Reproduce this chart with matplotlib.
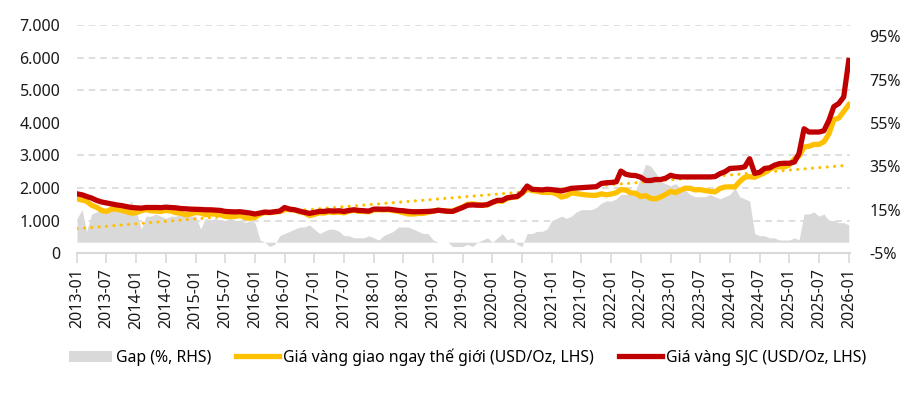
import numpy as np
import pandas as pd
import matplotlib
matplotlib.use("Agg")
import matplotlib.pyplot as plt
import matplotlib.dates as mdates
from matplotlib.patches import Patch
from matplotlib.lines import Line2D
from matplotlib.ticker import FixedLocator, FuncFormatter

plt.rcParams["font.family"] = ["Noto Sans", "DejaVu Sans"]

# monthly data 2013-01 .. 2026-01
months = pd.date_range("2013-01-01", "2026-01-01", freq="MS")

# gia vang the gioi (USD/oz)
spot = [1670, 1630, 1590, 1470, 1410, 1310, 1280, 1350, 1350, 1315, 1275, 1225,
        1245, 1300, 1335, 1300, 1290, 1280, 1310, 1295, 1240, 1225, 1175, 1200,
        1250, 1230, 1180, 1200, 1200, 1180, 1130, 1115, 1125, 1160, 1085, 1070,
        1095, 1200, 1245, 1240, 1260, 1275, 1335, 1340, 1325, 1265, 1235, 1150,
        1190, 1235, 1230, 1265, 1245, 1260, 1235, 1285, 1315, 1280, 1280, 1265,
        1330, 1330, 1325, 1335, 1305, 1280, 1240, 1200, 1200, 1215, 1220, 1250,
        1290, 1320, 1300, 1285, 1285, 1360, 1415, 1500, 1510, 1495, 1470, 1480,
        1560, 1600, 1590, 1680, 1715, 1730, 1840, 1970, 1920, 1900, 1865, 1860,
        1865, 1810, 1720, 1760, 1850, 1830, 1805, 1785, 1775, 1775, 1820, 1790,
        1815, 1855, 1950, 1935, 1850, 1835, 1735, 1765, 1680, 1665, 1725, 1800,
        1900, 1855, 1930, 1995, 1990, 1940, 1950, 1920, 1900, 1880, 1985, 2030,
        2035, 2030, 2200, 2330, 2350, 2330, 2400, 2470, 2570, 2650, 2650, 2650,
        2710, 2900, 2980, 3260, 3280, 3340, 3340, 3420, 3660, 4100, 4150, 4350,
        4560]

# gia vang SJC quy doi (USD/oz)
sjc = [1820, 1790, 1740, 1690, 1620, 1570, 1540, 1510, 1480, 1460, 1430, 1400,
       1390, 1380, 1400, 1400, 1400, 1395, 1410, 1400, 1390, 1370, 1360, 1350,
       1345, 1340, 1330, 1330, 1320, 1310, 1280, 1270, 1265, 1270, 1250, 1230,
       1200, 1230, 1260, 1250, 1270, 1290, 1400, 1350, 1330, 1290, 1250, 1220,
       1250, 1280, 1280, 1300, 1290, 1300, 1280, 1310, 1330, 1310, 1300, 1290,
       1350, 1350, 1345, 1350, 1330, 1310, 1300, 1280, 1270, 1270, 1275, 1280,
       1290, 1315, 1300, 1285, 1280, 1340, 1400, 1470, 1480, 1470, 1470, 1490,
       1560, 1620, 1620, 1700, 1720, 1740, 1850, 2060, 1960, 1950, 1940, 1960,
       1950, 1930, 1910, 1950, 1990, 2000, 2010, 2020, 2030, 2040, 2140, 2160,
       2170, 2190, 2520, 2420, 2390, 2380, 2330, 2230, 2230, 2260, 2260, 2300,
       2390, 2350, 2340, 2340, 2340, 2340, 2340, 2340, 2340, 2350, 2440, 2500,
       2600, 2610, 2620, 2650, 2900, 2450, 2480, 2600, 2620, 2700, 2750, 2760,
       2760, 2800, 3060, 3820, 3720, 3720, 3720, 3760, 4080, 4500, 4600, 4800,
       5920]

# chenh lech (%)
gap = [11, 15, 5, 13, 14, 15, 15, 16, 15, 14, 15, 19,
       14, 6, 12, 12, 13, 12, 11, 12, 12, 13, 12, 12,
       12, 6, 11, 10, 11, 10, 10, 11, 10, 10, 9, 10,
       9, 1, 0, -2, -1, 3, 4, 5, 6, 7, 7, 8,
       6, 4, 5, 6, 6, 5, 3, 3, 2, 2, 2, 3,
       2, 1, 3, 4, 5, 7, 7, 7, 6, 5, 4, 4,
       1, 0, 0, 0, -2, -2, -2, -1, -2, 0, 1, 2,
       0, 2, 4, 1, 2, -1, -2, 4, 4, 5, 5, 6,
       10, 11, 12, 11, 12, 14, 15, 15, 15, 16, 18, 19,
       19, 20, 22, 22, 23, 24, 30, 36, 35, 32, 28, 27,
       26, 27, 25, 24, 22, 21, 21, 21, 22, 21, 20, 21,
       22, 25, 21, 20, 19, 4, 3, 3, 2, 2, 1, 1,
       1, 2, 1, 13, 13, 14, 12, 13, 10, 10, 9, 9,
       8]

# duong xu huong gia the gioi (dau, cuoi)
trend = [750, 2700]

left_ticks = [0, 1000, 2000, 3000, 4000, 5000, 6000, 7000]
right_ticks = [-5, 15, 35, 55, 75, 95]

YELLOW = "#FFC000"
RED = "#C00000"
GREY = "#D9D9D9"

fig = plt.figure(figsize=(9.17, 3.96), dpi=100)
ax = fig.add_axes([0.084, 0.361, 0.843, 0.575])
ax_gap = ax.twinx()
ax.set_zorder(ax_gap.get_zorder() + 1)
ax.patch.set_visible(False)

# gap area (right axis), grid drawn here so the area covers it
ax_gap.fill_between(months, 0, gap, color=GREY, lw=0, zorder=2)
ax_gap.set_ylim(-5, 100)
ax_gap.set_yticks(right_ticks)
ax_gap.yaxis.set_major_formatter(FuncFormatter(lambda v, p: f"{v:.0f}%"))
grid_pos = [-5 + v * 105 / 7000 for v in left_ticks[1:]]
ax_gap.yaxis.set_minor_locator(FixedLocator(grid_pos))
ax_gap.set_axisbelow(True)
ax_gap.grid(True, which="minor", axis="y", color=GREY, lw=1.2, ls=(0, (4, 3)))
ax_gap.tick_params(axis="y", which="both", length=0, pad=14, labelsize=11.5,
                   colors="#1a1a1a")

# price lines (left axis)
ax.plot(months, spot, color=YELLOW, lw=3.8, zorder=3)
ax.plot(months, sjc, color=RED, lw=3.8, zorder=4)
ax.plot(months[[0, -1]], trend, color=YELLOW, lw=2.3, ls=(0, (0.01, 2.3)),
        dash_capstyle="round", zorder=3)

ax.set_ylim(0, 7000)
ax.set_yticks(left_ticks)
ax.yaxis.set_major_formatter(FuncFormatter(lambda v, p: f"{v:,.0f}".replace(",", ".")))
ax.tick_params(axis="y", length=0, pad=12, labelsize=11.5, colors="#1a1a1a")

ax.set_xlim(months[0], months[-1] + pd.Timedelta(days=8))
ax.xaxis.set_major_locator(mdates.MonthLocator(bymonth=[1, 7]))
ax.xaxis.set_major_formatter(mdates.DateFormatter("%Y-%m"))
ax.tick_params(axis="x", length=7, width=1.2, color=GREY, labelrotation=90,
               labelsize=11.5, pad=4, labelcolor="#1a1a1a")

for a in (ax, ax_gap):
    for s in ("top", "left", "right", "bottom"):
        a.spines[s].set_visible(False)
ax.spines["bottom"].set_visible(True)
ax.spines["bottom"].set_color(GREY)
ax.spines["bottom"].set_linewidth(1.5)

handles = [Patch(facecolor=GREY, edgecolor="none"),
           Line2D([], [], color=YELLOW, lw=3.8),
           Line2D([], [], color=RED, lw=3.8)]
labels = ["Gap (%, RHS)",
          "Giá vàng giao ngay thế giới (USD/Oz, LHS)",
          "Giá vàng SJC (USD/Oz, LHS)"]
fig.legend(handles, labels, loc="center", bbox_to_anchor=(0.51, 0.098), ncol=3,
           frameon=False, fontsize=11.4, handlelength=2.7, handletextpad=0.25,
           columnspacing=1.6)

fig.savefig("out.png", dpi=100)
